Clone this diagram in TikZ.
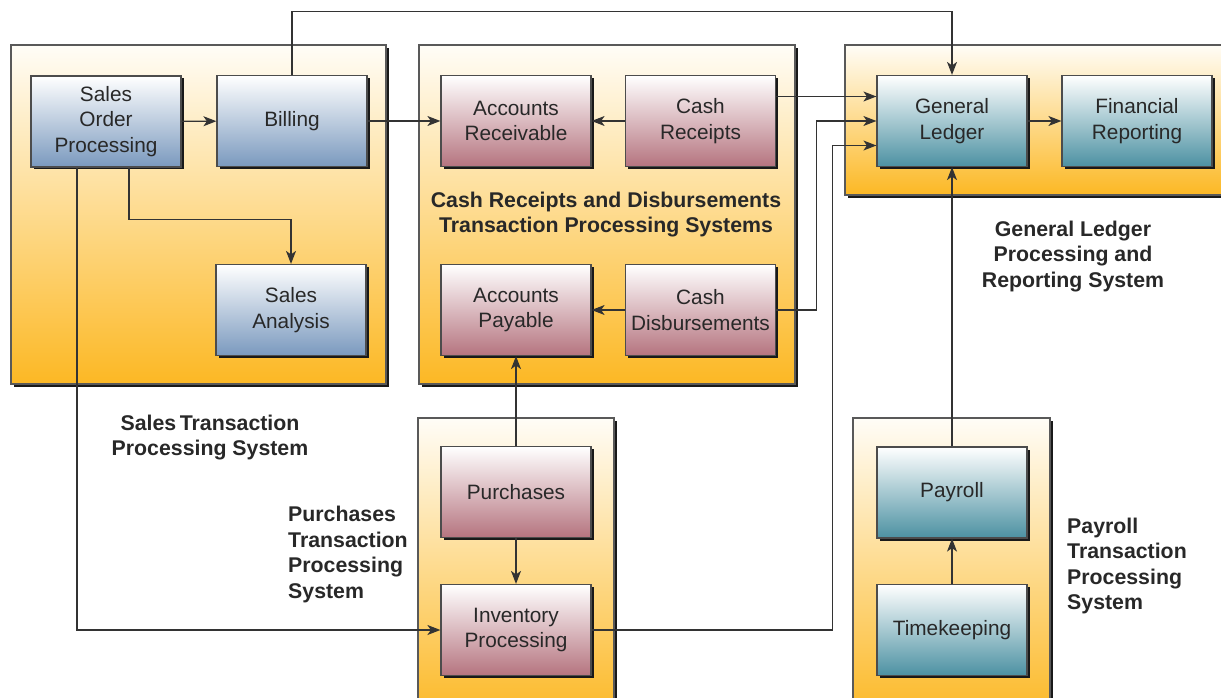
\documentclass[tikz,border=0pt]{standalone}
\usepackage{fontspec}
\setmainfont{Liberation Sans}
\usepackage{xcolor}
\usepackage{tikz}
\usetikzlibrary{positioning, arrows.meta, shadows}

\definecolor{grptop}{RGB}{255,253,247}
\definecolor{grpbot}{RGB}{252,184,36}
\definecolor{bluebot}{RGB}{122,153,190}
\definecolor{redbot}{RGB}{181,116,127}
\definecolor{tealbot}{RGB}{76,145,162}
\definecolor{inkgray}{RGB}{40,40,40}

\begin{document}
\begin{tikzpicture}[
    x=1pt, y=-1pt,
    font=\fontsize{20.8}{25.5}\selectfont,
    group/.style={draw=black!65, line width=1.2pt, top color=grptop, bottom color=grpbot,
        drop shadow={shadow xshift=3pt, shadow yshift=-3pt, fill=black!90, opacity=1}},
    box/.style={draw=black!70, line width=1.2pt, top color=white, bottom color=#1,
        minimum width=150pt, minimum height=91pt, align=center, text=inkgray,
        drop shadow={shadow xshift=2.5pt, shadow yshift=-2.5pt, fill=black!90, opacity=1}},
    lbl/.style={font=\fontsize{21.3}{25.4}\selectfont\bfseries, text=inkgray, inner sep=0pt},
    arrow/.style={-{Stealth[length=13pt, width=10pt, inset=3.5pt]}, line width=1.2pt, draw=black!80}
]
    \useasboundingbox (0,0) rectangle (1221,698);
    \clip (0,0) rectangle (1221,698);

    % system boxes
    \node[group, minimum width=375pt, minimum height=339pt] (salesgrp) at (198.5,214.5) {};
    \node[group, minimum width=376pt, minimum height=339pt] (cashgrp) at (607,214.5) {};
    \node[group, minimum width=395pt, minimum height=150pt] (glgrp) at (1042.5,120) {};
    \node[group, minimum width=196pt, minimum height=302pt] (purgrp) at (516,569) {};
    \node[group, minimum width=197pt, minimum height=302pt] (paygrp) at (951.5,569) {};

    % sales
    \node[box=bluebot] (sop) at (106,121.5) {Sales\\Order\\Processing};
    \node[box=bluebot] (billing) at (292,121) {Billing};
    \node[box=bluebot] (salesan) at (291,310) {Sales\\Analysis};

    % cash receipts and disbursements
    \node[box=redbot] (ar) at (516,121) {Accounts\\Receivable};
    \node[box=redbot] (cr) at (700.5,121) {Cash\\Receipts};
    \node[box=redbot] (ap) at (516,310) {Accounts\\Payable};
    \node[box=redbot] (cd) at (700.5,310) {Cash\\Disbursements};

    % general ledger
    \node[box=tealbot] (gl) at (952,121) {General\\Ledger};
    \node[box=tealbot] (fr) at (1137,121) {Financial\\Reporting};

    % purchases and payroll
    \node[box=redbot] (purch) at (516,492) {Purchases};
    \node[box=redbot] (inv) at (516,630) {Inventory\\Processing};
    \node[box=tealbot] (payroll) at (952,492.5) {Payroll};
    \node[box=tealbot] (timek) at (952,630) {Timekeeping};

    % labels
    \node[lbl, align=center] (salesLbl) at (210,437.5) {Sales\,Transaction\\Processing System};
    \node[lbl, align=center] (cashLbl) at (606,214.5) {Cash Receipts and Disbursements\\Transaction Processing Systems};
    \node[lbl, align=left, anchor=west] (purLbl) at (288,554.5) {Purchases\\Transaction\\Processing\\System};
    \node[lbl, align=center] (glLbl) at (1073,256.5) {General Ledger\\Processing and\\Reporting System};
    \node[lbl, align=left, anchor=west] (payLbl) at (1067,566) {Payroll\\Transaction\\Processing\\System};

    % flows
    \draw[arrow] (sop) -- (billing);
    \draw[arrow] ([xshift=23pt]sop.south) -- ++(0,52) -| (salesan);
    \draw[arrow] ([xshift=-29pt]sop.south) |- (inv);
    \draw[arrow] (billing) -- (ar);
    \draw[arrow] (billing.north) -- ++(0,-63) -| (gl);
    \draw[arrow] (cr) -- (ar);
    \draw[arrow] (cd) -- (ap);
    \draw[arrow] ([yshift=24.5pt]cr.east) -- ([yshift=24.5pt]gl.west);
    \draw[arrow] (cd.east) -- ++(40,0) |- (gl.west);
    \draw[arrow] (inv.east) -- ++(241,0) |- ([yshift=-24.5pt]gl.west);
    \draw[arrow] (gl) -- (fr);
    \draw[arrow] (purch) -- (ap);
    \draw[arrow] (purch) -- (inv);
    \draw[arrow] (timek) -- (payroll);
    \draw[arrow] (payroll) -- (gl);
\end{tikzpicture}
\end{document}
